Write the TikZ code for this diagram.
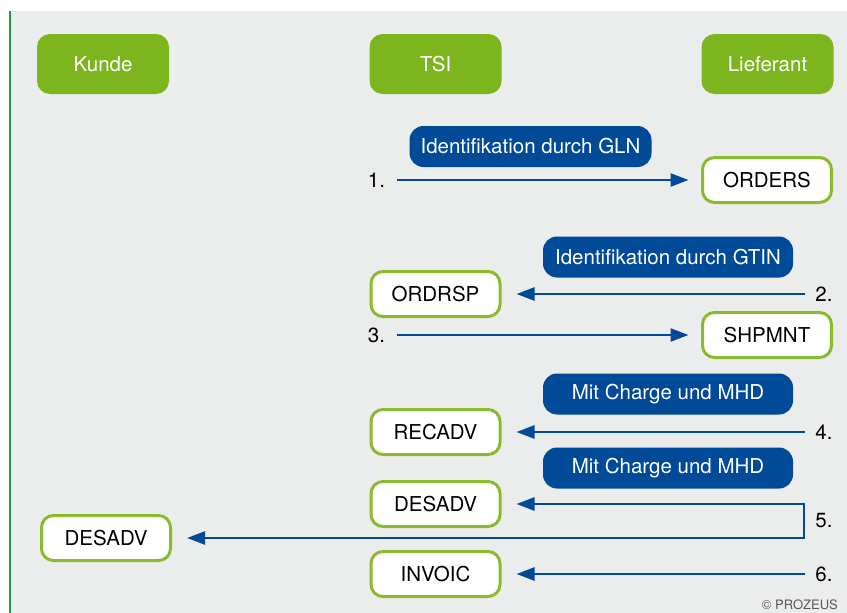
\documentclass[tikz,border=0pt]{standalone}
\usepackage{fontspec}
\setmainfont{TeX Gyre Heros}
\usetikzlibrary{arrows.meta}

\definecolor{hgrau}{HTML}{EBECEC}
\definecolor{gruen}{HTML}{7DB51E}
\definecolor{rahmen}{HTML}{8CBA2E}
\definecolor{linie}{HTML}{1E9A48}
\definecolor{blau}{HTML}{004A98}

\begin{document}
\begin{tikzpicture}[x=1pt,y=-1pt,
	kopf/.style={rounded corners=13pt, fill=gruen, text=white, minimum width=132pt, minimum height=60pt, font=\fontsize{20.5}{24}\selectfont},
	nachricht/.style={rounded corners=12pt, draw=rahmen, line width=3pt, fill=white, minimum width=129pt, minimum height=45pt, font=\fontsize{20.5}{24}\selectfont},
	hinweis/.style={rounded corners=14pt, fill=blau, text=white, minimum height=41pt, font=\fontsize{20.5}{24}\selectfont},
	nummer/.style={inner sep=0pt, font=\fontsize{20.5}{24}\selectfont},
	pfeil/.style={draw=blau, line width=2.5pt, -{Triangle[length=18pt,width=13pt]}}]
	\useasboundingbox (0,0) rectangle (847,613);
	\fill[hgrau] (10,11) rectangle (847,613);
	\draw[linie, line width=2.5pt] (10,11) -- (10,613);
	
	\node[kopf] (kunde)     at (103,64)   {Kunde};
	\node[kopf] (tsi)       at (435.5,64) {TSI};
	\node[kopf] (lieferant) at (767.5,64) {Lieferant};
	
	\node[hinweis, minimum width=242pt] (gln)     at (530.5,146.5) {Identifikation durch GLN};
	\node[hinweis, minimum width=250pt] (gtin)    at (668,257)     {Identifikation durch GTIN};
	\node[hinweis, minimum width=250pt] (mhd1)    at (668,394)     {Mit Charge und MHD};
	\node[hinweis, minimum width=250pt] (mhd2)    at (668,468)     {Mit Charge und MHD};
	
	\node[nachricht] (orders)  at (767,180)   {ORDERS};
	\node[nachricht] (ordrsp)  at (435.5,294) {ORDRSP};
	\node[nachricht] (shpmnt)  at (767,335)   {SHPMNT};
	\node[nachricht] (recadv)  at (435.5,432) {RECADV};
	\node[nachricht] (desadv)  at (435.5,504) {DESADV};
	\node[nachricht] (desadvk) at (106,538)   {DESADV};
	\node[nachricht] (invoic)  at (435.5,574) {INVOIC};
	
	\node[nummer] (n1) at (376.5,180) {1.};
	\node[nummer] (n2) at (824,294)   {2.};
	\node[nummer] (n3) at (376.5,335) {3.};
	\node[nummer] (n4) at (824,432)   {4.};
	\node[nummer] (n5) at (824,521)   {5.};
	\node[nummer] (n6) at (824,574)   {6.};
	\coordinate (k5) at (804,521);
	
	\path (n1.east) edge [pfeil, shorten <=12pt, shorten >=12.5pt] (orders.west);
	\path (n2.west) edge [pfeil, shorten <=10pt, shorten >=15pt]   (ordrsp.east);
	\path (n3.east) edge [pfeil, shorten <=12pt, shorten >=12.5pt] (shpmnt.west);
	\path (n4.west) edge [pfeil, shorten <=10pt, shorten >=15pt]   (recadv.east);
	\path (n6.west) edge [pfeil, shorten <=10pt, shorten >=15pt]   (invoic.east);
	\draw [pfeil, {Triangle[length=18pt,width=13pt]}-{Triangle[length=18pt,width=13pt]}, shorten <=15pt, shorten >=15pt]
		(desadv.east) -| (k5) |- (desadvk.east);
	
	\node[text=black!65, font=\fontsize{13}{15}\selectfont, anchor=east, inner sep=0pt] (copy) at (838,605) {© PROZEUS};
\end{tikzpicture}
\end{document}
